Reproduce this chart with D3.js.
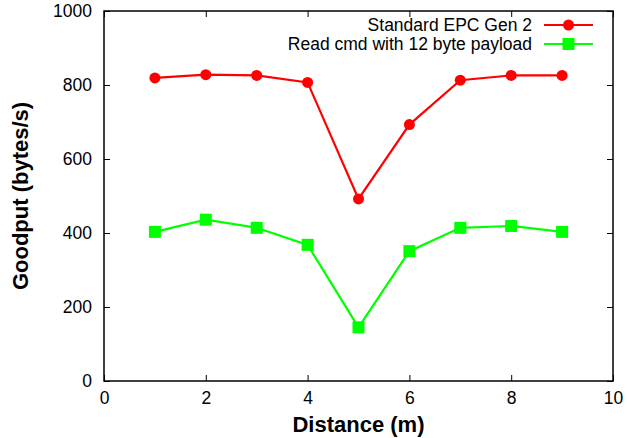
<!DOCTYPE html>
<html>
<head>
<meta charset="utf-8">
<script src="https://cdn.jsdelivr.net/npm/d3@7"></script>
<style>
  html, body { margin: 0; padding: 0; background: #fff; }
  svg { display: block; font-family: "Liberation Sans", Arial, Helvetica, sans-serif; }
</style>
</head>
<body>
<svg id="chart" width="627" height="438"></svg>
<script>
// Goodput versus tag distance for two reader command variants
const distances = [1, 2, 3, 4, 5, 6, 7, 8, 9];
const standardEpc = [819, 828, 826, 807, 492, 693, 813, 826, 826];
const readCmd12 = [403, 436, 414, 368, 145, 351, 414, 419, 403];
const seriesNames = ["Standard EPC Gen 2", "Read cmd with 12 byte payload"];
const seriesColors = ["#ff0000", "#00ff00"];
const xTicks = [0, 2, 4, 6, 8, 10];
const yTicks = [0, 200, 400, 600, 800, 1000];

const svg = d3.select("#chart");
const margin = { left: 104, right: 14, top: 11, bottom: 57 };
const W = 627, H = 438;
const x = d3.scaleLinear().domain([0, 10]).range([margin.left, W - margin.right]);
const y = d3.scaleLinear().domain([0, 1000]).range([H - margin.bottom, margin.top]);

const tickLen = 6;
const axisColor = "#000";
const labelSize = "17.5px";

// Frame
svg.append("rect")
  .attr("x", x(0)).attr("y", y(1000))
  .attr("width", x(10) - x(0)).attr("height", y(0) - y(1000))
  .attr("fill", "none").attr("stroke", axisColor).attr("stroke-width", 1.5);

// Axes with inward ticks on every side
const bottomAxis = d3.axisBottom(x).tickValues(xTicks).tickSize(-tickLen).tickPadding(11).tickFormat(d3.format("d"));
const topAxis = d3.axisTop(x).tickValues(xTicks).tickSize(-tickLen).tickFormat("");
const leftAxis = d3.axisLeft(y).tickValues(yTicks).tickSize(-tickLen).tickPadding(12).tickFormat(d3.format("d"));
const rightAxis = d3.axisRight(y).tickValues(yTicks).tickSize(-tickLen).tickFormat("");

function styleAxis(g) {
  g.select(".domain").remove();
  g.selectAll(".tick line").attr("stroke", axisColor).attr("stroke-width", 1);
  g.selectAll(".tick text").attr("fill", "#000").style("font-size", labelSize)
    .style("font-family", "'Liberation Sans', Arial, sans-serif");
}
svg.append("g").attr("transform", `translate(0,${y(0)})`).call(bottomAxis).call(styleAxis);
svg.append("g").attr("transform", `translate(0,${y(1000)})`).call(topAxis).call(styleAxis);
svg.append("g").attr("transform", `translate(${x(0)},0)`).call(leftAxis).call(styleAxis);
svg.append("g").attr("transform", `translate(${x(10)},0)`).call(rightAxis).call(styleAxis);

// Axis titles
svg.append("text")
  .attr("x", (x(0) + x(10)) / 2).attr("y", 432)
  .attr("text-anchor", "middle")
  .style("font-size", "22px").style("font-weight", "bold")
  .text("Distance (m)");
svg.append("text")
  .attr("transform", `translate(28,${(y(0) + y(1000)) / 2}) rotate(-90)`)
  .attr("text-anchor", "middle")
  .style("font-size", "22px").style("font-weight", "bold")
  .text("Goodput (bytes/s)");

const line = d3.line().x(d => x(d[0])).y(d => y(d[1]));
const seriesData = [standardEpc, readCmd12].map(vals => distances.map((d, i) => [d, vals[i]]));

function drawMarker(g, kind, cx, cy, color) {
  if (kind === 0) {
    g.append("circle").attr("cx", cx).attr("cy", cy).attr("r", 5.5).attr("fill", color);
  } else {
    g.append("rect").attr("x", cx - 6).attr("y", cy - 6).attr("width", 12).attr("height", 12).attr("fill", color);
  }
}

seriesData.forEach((pts, k) => {
  const g = svg.append("g");
  g.append("path").datum(pts).attr("d", line)
    .attr("fill", "none").attr("stroke", seriesColors[k]).attr("stroke-width", 2.2);
  pts.forEach(p => drawMarker(g, k, x(p[0]), y(p[1]), seriesColors[k]));
});

// Legend
const legendY = [25, 44];
seriesNames.forEach((name, k) => {
  const g = svg.append("g");
  g.append("text").attr("x", 532).attr("y", legendY[k] + 6)
    .attr("text-anchor", "end").style("font-size", labelSize).attr("fill", "#000")
    .text(name);
  g.append("line").attr("x1", 544).attr("x2", 593)
    .attr("y1", legendY[k]).attr("y2", legendY[k])
    .attr("stroke", seriesColors[k]).attr("stroke-width", 2.2);
  drawMarker(g, k, 568.5, legendY[k], seriesColors[k]);
});
</script>
</body>
</html>
